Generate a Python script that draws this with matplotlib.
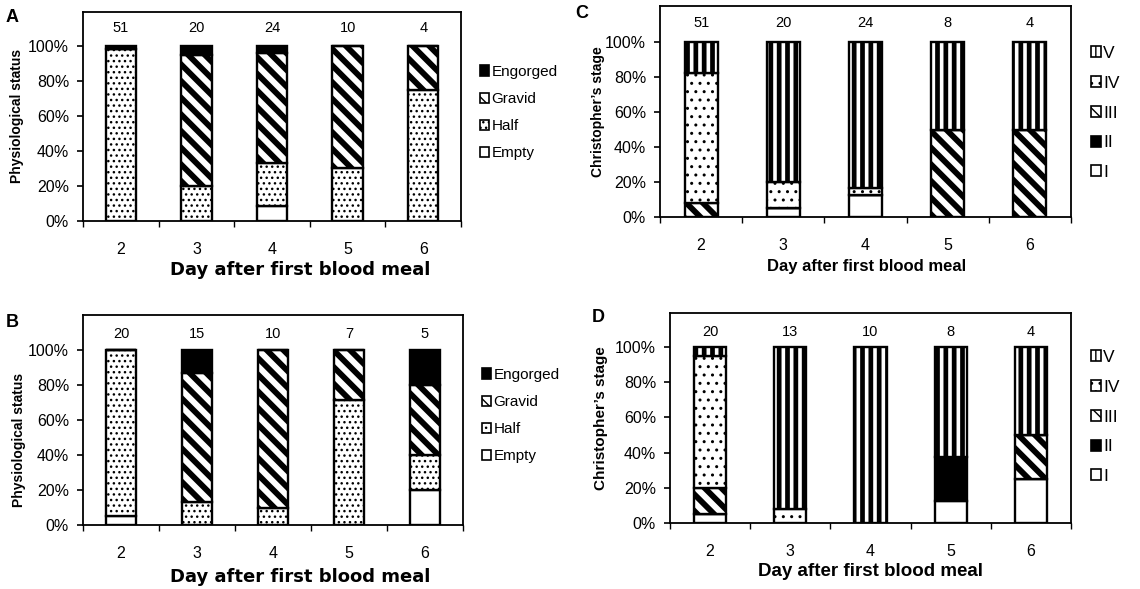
import numpy as np
import matplotlib
matplotlib.use("Agg")
import matplotlib.pyplot as plt
import matplotlib.patches as mpatches
from matplotlib.ticker import FuncFormatter

plt.rcParams['font.family'] = ['Liberation Sans', 'DejaVu Sans']

# ---------------- data ----------------
days = ['2', '3', '4', '5', '6']

# Panel A - physiological status (%)
a_n = [51, 20, 24, 10, 4]
a_empty = [0, 0, 8.3, 0, 0]
a_half = [98, 20, 25, 30, 75]
a_gravid = [0, 75, 62.5, 70, 25]
a_engorged = [2, 5, 4.2, 0, 0]

# Panel B - physiological status (%)
b_n = [20, 15, 10, 7, 5]
b_empty = [5, 0, 0, 0, 20]
b_half = [95, 13.3, 10, 71.4, 20]
b_gravid = [0, 73.4, 90, 28.6, 40]
b_engorged = [0, 13.3, 0, 0, 20]

# Panel C - Christopher's stage (%)
c_n = [51, 20, 24, 8, 4]
c_I = [0, 5, 12.5, 0, 0]
c_II = [0, 0, 0, 0, 0]
c_III = [7.8, 0, 0, 50, 50]
c_IV = [74.5, 15, 4.2, 0, 0]
c_V = [17.7, 80, 83.3, 50, 50]

# Panel D - Christopher's stage (%)
d_n = [20, 13, 10, 8, 4]
d_I = [5, 0, 0, 12.5, 25]
d_II = [0, 0, 0, 25, 0]
d_III = [15, 0, 0, 0, 25]
d_IV = [75, 7.7, 0, 0, 0]
d_V = [5, 92.3, 100, 62.5, 50]

status_labels = ['Empty', 'Half', 'Gravid', 'Engorged']
stage_labels = ['I', 'II', 'III', 'IV', 'V']

# ---------------- styles ----------------
W, H = 1140, 589
fig = plt.figure(figsize=(W / 100, H / 100), dpi=100)

EMPTY = dict(hatch=None, face='white', hlw=1.0)
HALF = dict(hatch='...', face='white', hlw=1.0)
GRAVID = dict(hatch='\\\\', face='white', hlw=4.2)
BLACK = dict(hatch=None, face='black', hlw=1.0)
DOTS = dict(hatch='..', face='white', hlw=1.0)
VERT = dict(hatch='||', face='white', hlw=3.4)

status_styles = [EMPTY, HALF, GRAVID, BLACK]
stage_styles = [EMPTY, BLACK, GRAVID, DOTS, VERT]


def set_hlw(p, lw):
    if hasattr(p, 'set_hatch_linewidth'):
        p.set_hatch_linewidth(lw)
    else:
        p._hatch_linewidth = lw


def make_ax(l, t, r, b):
    return fig.add_axes([l / W, 1 - b / H, (r - l) / W, (b - t) / H])


def draw_panel(ax, series, styles, counts, ytop, count_y):
    x = np.arange(len(days))
    bottom = np.zeros(len(days))
    for vals, st in zip(series, styles):
        vals = np.asarray(vals, float)
        bars = ax.bar(x, vals, 0.4, bottom=bottom, color=st['face'],
                      edgecolor='black', linewidth=1.7, hatch=st['hatch'], zorder=2)
        for p in bars:
            set_hlw(p, st['hlw'])
        bottom += vals
    for xi, n in zip(x, counts):
        ax.text(xi, count_y, str(n), ha='center', va='center', fontsize=10.5)
    ax.set_xlim(-0.5, len(days) - 0.5)
    ax.set_ylim(0, ytop)
    ax.set_xticks(x)
    ax.set_xticklabels(days)
    ax.set_xticks(np.arange(-0.5, len(days)), minor=True)
    ax.set_yticks(np.arange(0, 101, 20))
    ax.yaxis.set_major_formatter(FuncFormatter(lambda v, p: f'{int(v)}%'))
    ax.tick_params(axis='y', direction='out', length=4, width=1.2, pad=6, labelsize=11.5)
    ax.tick_params(axis='x', which='major', length=0, pad=15, labelsize=11.5)
    ax.tick_params(axis='x', which='minor', direction='out', length=4, width=1.0)
    for s in ax.spines.values():
        s.set_linewidth(1.3)


def make_legend(labels, styles, fx, fy, fs, spacing, hl):
    handles = []
    for lab, st in zip(labels, styles):
        h = mpatches.Patch(facecolor=st['face'], edgecolor='black', linewidth=1.2,
                           hatch=st['hatch'], label=lab)
        set_hlw(h, min(st['hlw'], 2.2))
        handles.append(h)
    leg = fig.legend(handles[::-1], labels[::-1], loc='upper left',
                     bbox_to_anchor=(fx / W, 1 - fy / H), frameon=False,
                     fontsize=fs, labelspacing=spacing, handlelength=hl,
                     handleheight=hl * 1.1, handletextpad=0.15, borderpad=0,
                     borderaxespad=0)
    return leg


def ftext(x, y, s, **kw):
    fig.text(x / W, 1 - y / H, s, ha='center', va='center', **kw)


# Panel A
axA = make_ax(83, 12, 461, 221)
draw_panel(axA, [a_empty, a_half, a_gravid, a_engorged], status_styles, a_n, 119.4, 110)
make_legend(status_labels, status_styles, 480, 65, 11, 0.86, 0.6)
ftext(12, 18, 'A', fontsize=13, fontweight='bold')
ftext(17, 116, 'Physiological status', fontsize=10, fontweight='bold', rotation=90)
ftext(300, 270, 'Day after first blood meal', fontsize=13, fontweight='bold',
      family='DejaVu Sans')

# Panel B
axB = make_ax(83, 315, 463, 525)
draw_panel(axB, [b_empty, b_half, b_gravid, b_engorged], status_styles, b_n, 120, 109)
make_legend(status_labels, status_styles, 482, 368, 11, 0.86, 0.6)
ftext(12, 322, 'B', fontsize=13, fontweight='bold')
ftext(19, 440, 'Physiological status', fontsize=10, fontweight='bold', rotation=90)
ftext(300, 577, 'Day after first blood meal', fontsize=13, fontweight='bold',
      family='DejaVu Sans')

# Panel C
axC = make_ax(660, 6, 1071, 217)
draw_panel(axC, [c_I, c_II, c_III, c_IV, c_V], stage_styles, c_n, 120.6, 111)
make_legend(stage_labels, stage_styles, 1091, 46, 12.5, 0.85, 0.55)
ftext(582, 13, 'C', fontsize=13, fontweight='bold')
ftext(598, 112, 'Christopher\u2019s stage', fontsize=10, fontweight='bold', rotation=90)
ftext(867, 267, 'Day after first blood meal', fontsize=12, fontweight='bold')

# Panel D
axD = make_ax(670, 313, 1071, 523)
draw_panel(axD, [d_I, d_II, d_III, d_IV, d_V], stage_styles, d_n, 119.3, 108.5)
make_legend(stage_labels, stage_styles, 1091, 350, 12.5, 0.85, 0.55)
ftext(598, 318, 'D', fontsize=13, fontweight='bold')
ftext(601, 418, 'Christopher\u2019s stage', fontsize=11, fontweight='bold', rotation=90)
ftext(870, 572, 'Day after first blood meal', fontsize=13.5, fontweight='bold')

fig.savefig('out.png', dpi=100)
